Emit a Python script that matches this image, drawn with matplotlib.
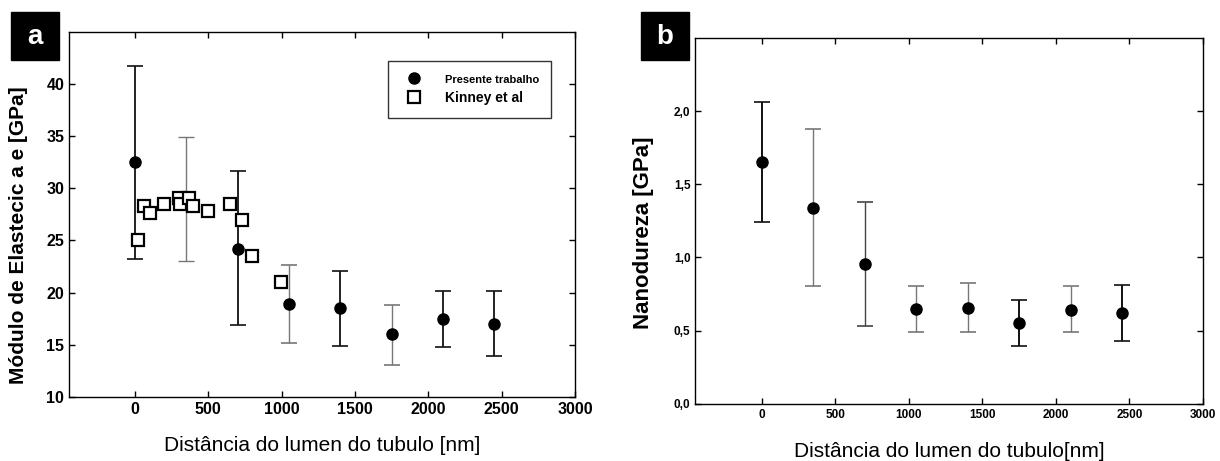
import matplotlib
matplotlib.use("Agg")
import matplotlib.pyplot as plt
from matplotlib.ticker import FuncFormatter
from matplotlib.patches import Rectangle

plt.rcParams['font.family'] = ['Liberation Sans', 'DejaVu Sans']

# Panel a data
pres_x = [0, 700, 1050, 1400, 1750, 2100, 2450]
pres_y = [32.5, 24.2, 18.9, 18.55, 16.0, 17.5, 17.0]
pres_lo = [23.2, 16.9, 15.2, 14.9, 13.1, 14.8, 13.9]
pres_hi = [41.7, 31.7, 22.6, 22.06, 18.8, 20.2, 20.2]
pres_bar_colors = ['#111111', '#111111', '#777777', '#111111', '#777777', '#111111', '#111111']
extra_bar_x = [350]
extra_bar_lo = [23.0]
extra_bar_hi = [34.9]

kin_x = [20, 62, 100, 198, 300, 307, 370, 398, 500, 646, 729, 800, 997]
kin_y = [25.0, 28.3, 27.6, 28.5, 29.1, 28.5, 29.1, 28.3, 27.8, 28.5, 27.0, 23.5, 21.0]

# Panel b data
nano_x = [0, 350, 700, 1050, 1400, 1750, 2100, 2450]
nano_y = [1.652, 1.339, 0.955, 0.648, 0.657, 0.555, 0.643, 0.620]
nano_lo = [1.241, 0.802, 0.530, 0.493, 0.493, 0.393, 0.493, 0.427]
nano_hi = [2.064, 1.877, 1.377, 0.802, 0.827, 0.711, 0.802, 0.811]
nano_bar_colors = ['#111111', '#777777', '#444444', '#777777', '#777777', '#111111', '#777777', '#111111']

xticks = [0, 500, 1000, 1500, 2000, 2500, 3000]

fig = plt.figure(figsize=(12.2, 4.61), dpi=100)
axa = fig.add_axes([0.0566, 0.139, 0.4147, 0.792])
axb = fig.add_axes([0.570, 0.124, 0.416, 0.794])

for ax in (axa, axb):
    ax.set_xlim(-450, 3000)
    ax.set_xticks(xticks)
    ax.tick_params(direction='in', top=True, right=True, length=4, width=1)
    for s in ax.spines.values():
        s.set_linewidth(1.0)

# ---- Panel a
for x, y, lo, hi, c in zip(pres_x, pres_y, pres_lo, pres_hi, pres_bar_colors):
    axa.errorbar([x], [y], yerr=[[y - lo], [hi - y]], fmt='none', ecolor=c,
                 elinewidth=1.3 if c == '#111111' else 1.0, capsize=6, capthick=1.2, zorder=2)
for x, lo, hi in zip(extra_bar_x, extra_bar_lo, extra_bar_hi):
    mid = (lo + hi) / 2
    axa.errorbar([x], [mid], yerr=[[mid - lo], [hi - mid]], fmt='none', ecolor='#777777',
                 elinewidth=1.0, capsize=6, capthick=1.0, zorder=2)
axa.plot(pres_x, pres_y, 'o', color='black', markersize=8, zorder=4, label='Presente trabalho')
axa.plot(kin_x, kin_y, 's', mfc='white', mec='black', mew=1.6, markersize=8, zorder=5, label='Kinney et al')
axa.set_ylim(10, 45)
axa.set_yticks([10, 15, 20, 25, 30, 35, 40])
for lab in axa.get_xticklabels() + axa.get_yticklabels():
    lab.set_fontweight('bold')
    lab.set_fontsize(11.5)
axa.set_ylabel('Módulo de Elastecic a e [GPa]', fontsize=15, fontweight='bold')
axa.yaxis.set_label_coords(-0.081, 0.444)
axa.set_xlabel('Distância do lumen do tubulo [nm]', fontsize=15, labelpad=14)
leg = axa.legend(loc='upper right', bbox_to_anchor=(0.967, 0.94), fontsize=10, frameon=True,
                 fancybox=False, edgecolor='black', handletextpad=1.2, borderpad=0.9,
                 labelspacing=0.45)
for t in leg.get_texts():
    t.set_fontweight('bold')
leg.get_texts()[0].set_fontsize(8)
leg.get_frame().set_linewidth(1.0)

# ---- Panel b
for x, y, lo, hi, c in zip(nano_x, nano_y, nano_lo, nano_hi, nano_bar_colors):
    axb.errorbar([x], [y], yerr=[[y - lo], [hi - y]], fmt='none', ecolor=c,
                 elinewidth=1.4 if c == '#111111' else 1.0, capsize=6, capthick=1.2, zorder=2)
axb.plot(nano_x, nano_y, 'o', color='black', markersize=8, zorder=4)
axb.set_ylim(0, 2.5)
axb.set_yticks([0.0, 0.5, 1.0, 1.5, 2.0])
axb.yaxis.set_major_formatter(FuncFormatter(lambda v, p: f'{v:.1f}'.replace('.', ',')))
for lab in axb.get_xticklabels() + axb.get_yticklabels():
    lab.set_fontweight('bold')
    lab.set_fontsize(8.5)
axb.set_ylabel('Nanodureza [GPa]', fontsize=16, fontweight='bold')
axb.yaxis.set_label_coords(-0.081, 0.467)
axb.set_xlabel('Distância do lumen do tubulo[nm]', fontsize=15, labelpad=15)

# panel letters
for xpos, letter in ((0.009, 'a'), (0.5254, 'b')):
    fig.add_artist(Rectangle((xpos, 0.8698), 0.0393, 0.104, transform=fig.transFigure,
                             facecolor='black', edgecolor='black'))
    fig.text(xpos + 0.0197, 0.92, letter, color='white', fontsize=20, fontweight='bold',
             ha='center', va='center')

fig.savefig('out.png', dpi=100)
